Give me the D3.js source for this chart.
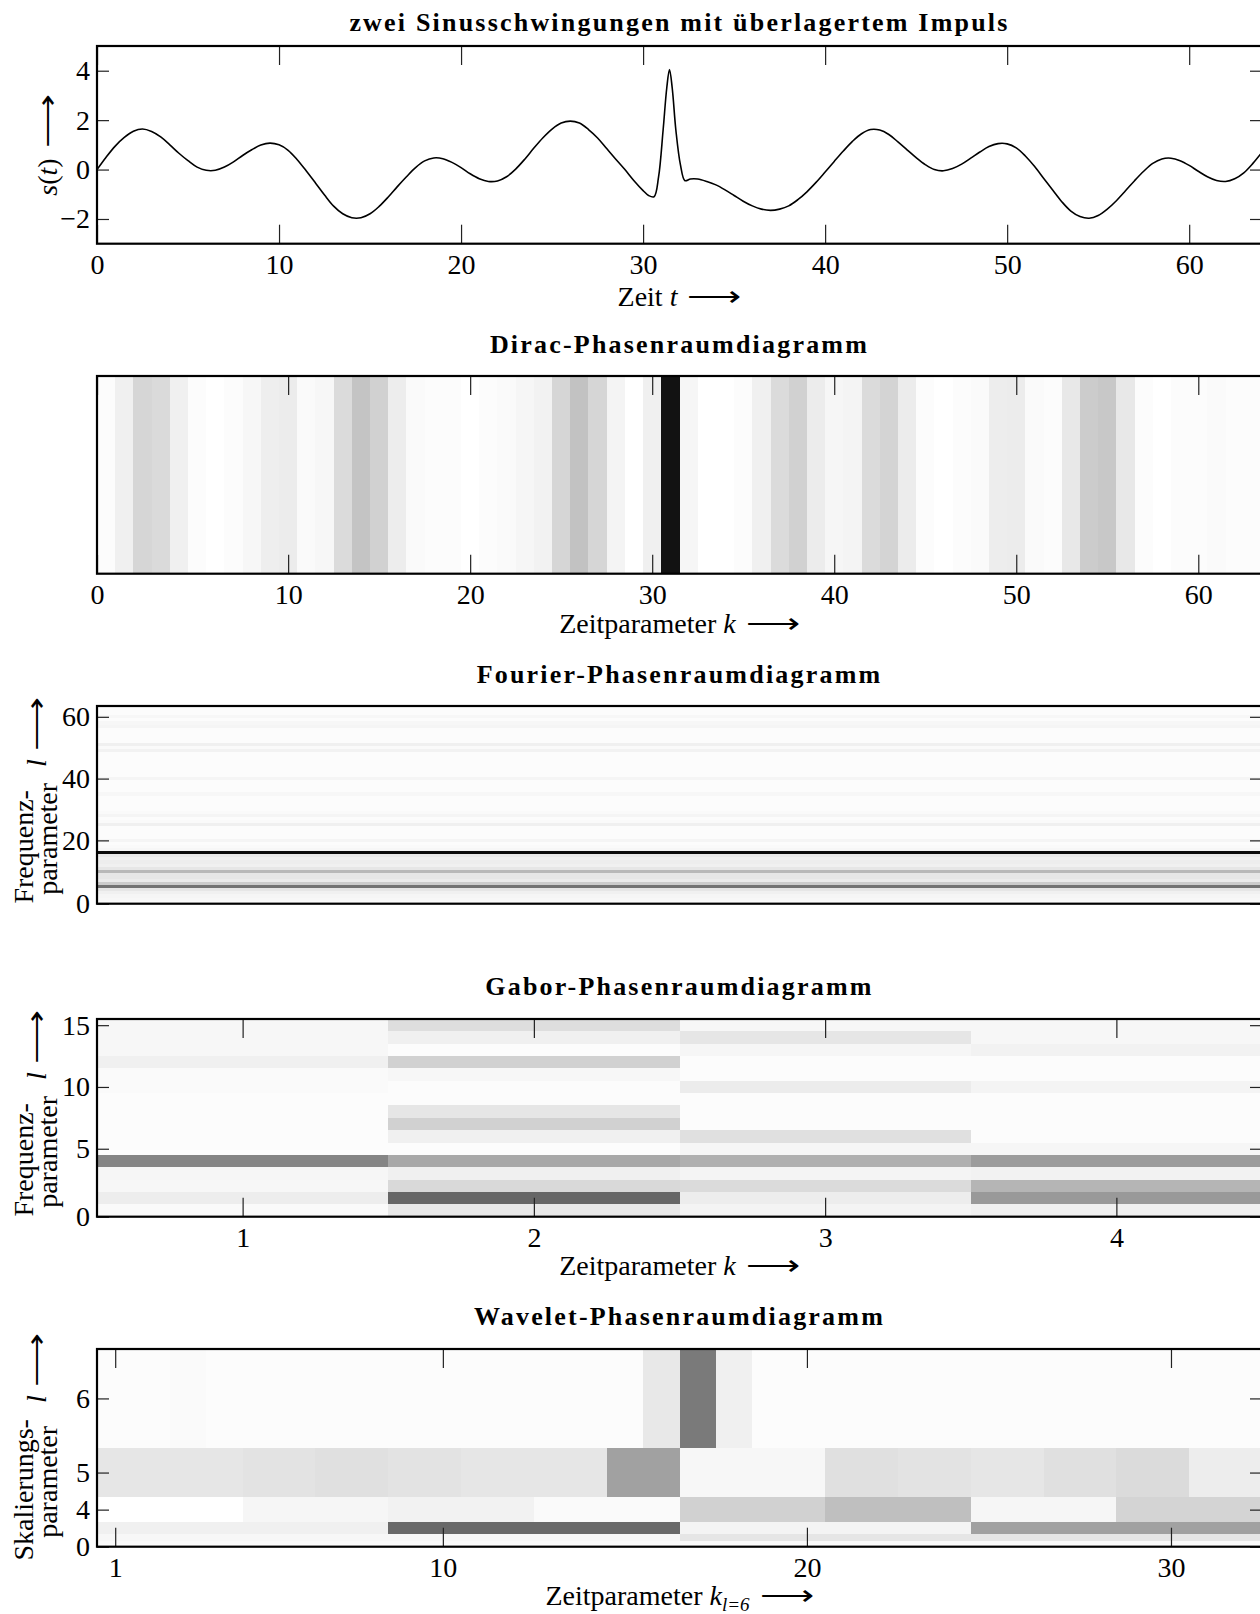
<!DOCTYPE html>
<html>
<head>
<meta charset="utf-8">
<script src="https://cdn.jsdelivr.net/npm/d3@7"></script>
<style>
body { margin: 0; background: #fff; }
svg text { font-family: "Liberation Serif", "Times New Roman", serif; fill: #000; }
.tick text { font-size: 28px; }
.tick line { stroke: #222; stroke-width: 1.2; }
.title { font-weight: bold; font-size: 26px; letter-spacing: 2.2px; }
.lab { font-size: 28px; }
</style>
</head>
<body>
<svg id="fig" width="1260" height="1614"></svg>
<script>
// ---- signal s(t)
const sT = [0,0.5,1,1.5,2,2.5,3,3.5,4,4.5,5,5.5,6,6.5,7,7.5,8,8.5,9,9.5,10,10.5,11,11.5,12,12.5,13,13.5,14,14.5,
  15,15.5,16,16.5,17,17.5,18,18.5,19,19.5,20,20.5,21,21.5,22,22.5,23,23.5,24,24.5,25,25.5,26,26.5,27,27.5,28,28.5,29,29.5,
  30,30.3,30.6,30.85,31.1,31.3,31.45,31.6,31.8,32.05,32.3,32.6,33,33.5,34,34.5,35,35.5,36,36.5,37,37.5,38,38.5,39,39.5,
  40,40.5,41,41.5,42,42.5,43,43.5,44,44.5,45,45.5,46,46.5,47,47.5,48,48.5,49,49.5,50,50.5,51,51.5,52,52.5,53,53.5,54,54.5,
  55,55.5,56,56.5,57,57.5,58,58.5,59,59.5,60,60.5,61,61.5,62,62.5,63,63.5,64];
const sV = [0,0.5,0.95,1.3,1.55,1.64,1.54,1.32,1.0,0.66,0.36,0.1,-0.03,-0.03,0.1,0.31,0.57,0.8,0.99,1.07,1.0,0.78,0.4,-0.06,-0.54,-1.03,-1.48,-1.79,-1.95,-1.95,
  -1.79,-1.49,-1.11,-0.69,-0.29,0.08,0.35,0.47,0.44,0.29,0.08,-0.17,-0.37,-0.48,-0.46,-0.29,0.02,0.42,0.87,1.29,1.64,1.88,1.96,1.88,1.62,1.28,0.85,0.42,0.0,-0.45,
  -0.85,-1.05,-1.1,-0.3,1.6,3.3,4.05,3.3,1.6,0.2,-0.45,-0.38,-0.38,-0.48,-0.62,-0.82,-1.05,-1.28,-1.47,-1.6,-1.65,-1.6,-1.47,-1.22,-0.9,-0.52,
  -0.1,0.33,0.75,1.14,1.45,1.62,1.6,1.42,1.12,0.8,0.48,0.2,0.0,-0.05,0.04,0.22,0.46,0.71,0.93,1.05,1.04,0.88,0.55,0.13,-0.35,-0.83,-1.3,-1.68,-1.9,-1.97,
  -1.86,-1.6,-1.26,-0.86,-0.45,-0.07,0.25,0.43,0.46,0.36,0.17,-0.07,-0.29,-0.44,-0.48,-0.37,-0.13,0.25,0.7];
const sXTicks = [0,10,20,30,40,50,60];
const sYTicks = [-2,0,2,4];

// ---- Dirac: darkness per time index k = 0..63
const diracVals = [0.01,0.06,0.16,0.145,0.06,0.01,0,0.01,0.03,0.065,0.075,0.02,0.03,0.14,0.23,0.18,
  0.07,0.02,0.01,0.01,0,0.01,0.02,0.035,0.05,0.16,0.24,0.16,0.045,0,0.06,0.93,
  0.035,0,0,0.01,0.06,0.14,0.18,0.075,0.035,0.045,0.14,0.17,0.075,0.01,0,0.01,
  0.02,0.07,0.075,0.02,0.01,0.09,0.2,0.215,0.09,0.01,0,0.01,0.01,0.02,0.01,0.01];
const diracTicks = [0,10,20,30,40,50,60];

// ---- Fourier: darkness per frequency index l = 0..63
const fourierVals = [0.02,0.03,0.04,0.06,0.1,0.55,0.2,0.08,0.1,0.1,0.28,0.1,0.06,0.07,0.05,0.08,
  0.95,0.03,0.02,0.01,0.04,0.01,0.01,0.01,0.01,0.06,0.02,0.01,0.04,0.02,0.01,0.01,
  0.01,0.01,0.01,0.03,0.01,0.01,0.01,0.01,0.04,0.01,0.01,0.01,0.01,0.01,0.01,0.01,
  0.01,0.05,0.02,0.06,0.01,0.01,0.01,0.01,0.01,0.04,0.03,0.01,0.03,0.01,0.01,0.01];
const fourierTicks = [0,20,40,60];

// ---- Gabor: darkness, one array per time block k = 1..4, index l = 0..15
const gaborK1 = [0.02,0.07,0.03,0.035,0.48,0.01,0.01,0.01,0.01,0.01,0.02,0.02,0.06,0.03,0.03,0.03];
const gaborK2 = [0.09,0.6,0.15,0.06,0.34,0.01,0.06,0.18,0.1,0.01,0.01,0.03,0.18,0.01,0.06,0.13];
const gaborK3 = [0.045,0.07,0.14,0.045,0.31,0.035,0.12,0.01,0.01,0.01,0.075,0.01,0.01,0.035,0.1,0.03];
const gaborK4 = [0.06,0.4,0.29,0.05,0.39,0.035,0.01,0.01,0.01,0.01,0.045,0.01,0.01,0.05,0.03,0.03];
const gaborXTicks = [1,2,3,4];
const gaborYTicks = [0,5,10,15];

// ---- Wavelet: darkness per scale level (finest level 6 = 32 coefficients)
const wav6 = [0.01,0.01,0.02,0.01,0.01,0.01,0.01,0.01,0.01,0.01,0.01,0.01,0.01,0.01,0.01,0.09,
  0.52,0.06,0.01,0.01,0.01,0.01,0.01,0.01,0.01,0.01,0.01,0.01,0.01,0.01,0.01,0.01];
const wav5 = [0.1,0.1,0.11,0.12,0.11,0.1,0.1,0.37,0.03,0.03,0.12,0.11,0.1,0.12,0.14,0.07];
const wav4 = [0,0.035,0.05,0.02,0.18,0.25,0.035,0.17];
const wav3 = [0.06,0.59,0.045,0.37];
const wav2 = [0.03,0.1];
const wav1 = [0.02];
const wav0 = [0.01];
const wavXTicks = [1,10,20,30];
const wavYLevels = [0,4,5,6];

// ---------------------------------------------------------------
const svg = d3.select("#fig");
const X0 = 97, X1 = 1262, H = 197.7;
const gray = d3.scaleLinear().domain([0, 1]).range(["#ffffff", "#000000"]);
const ARR = 1.35;   // long arrow is stretched sideways

function frame(top, x, y, opt) {
  const g = svg.append("g");
  const bottom = top + H;
  if (opt.xTicks) {
    g.append("g").attr("transform", `translate(0,${bottom})`)
      .call(d3.axisBottom(x).tickValues(opt.xTicks).tickSize(-19).tickPadding(10)
        .tickFormat(opt.xFormat || (d => d)));
    g.append("g").attr("transform", `translate(0,${top})`)
      .call(d3.axisTop(x).tickValues(opt.xTicks).tickSize(-19).tickFormat(""));
  }
  if (opt.yTicks) {
    g.append("g").attr("transform", `translate(${X0},0)`)
      .call(d3.axisLeft(y).tickValues(opt.yTicks).tickSize(-12).tickPadding(7)
        .tickFormat(opt.yFormat || (d => String(d).replace("-", "\u2212"))));
    g.append("g").attr("transform", `translate(${X1},0)`)
      .call(d3.axisRight(y).tickValues(opt.yTicks).tickSize(-12).tickFormat(""));
  }
  g.selectAll(".domain").remove();
  g.selectAll(".tick text").attr("font-family", null).attr("font-size", null);
  svg.append("rect").attr("x", X0).attr("y", top).attr("width", X1 - X0).attr("height", H)
    .attr("fill", "none").attr("stroke", "#000").attr("stroke-width", 2.2);
}

function title(txt, yb) {
  svg.append("text").attr("class", "title").attr("x", (X0 + X1) / 2).attr("y", yb)
    .attr("text-anchor", "middle").text(txt);
}

// text pieces + arrow, laid out from a start position along the baseline
function labelRow(parent, yb, parts) {
  const t = parent.append("text").attr("class", "lab").attr("x", 0).attr("y", yb);
  parts.forEach(p => {
    const s = t.append("tspan").text(p.text);
    if (p.it) s.attr("font-style", "italic");
    if (p.sub) s.attr("font-size", 19).attr("dy", 6);
    if (p.up) s.attr("dy", -6);
  });
  const w = t.node().getComputedTextLength();
  const a = parent.append("text").attr("class", "lab").text("\u27F6");
  const aw = a.node().getComputedTextLength() * ARR;
  return { t, a, w, aw };
}

function placeRow(row, x0, yb, gap) {
  row.t.attr("x", x0);
  row.a.attr("transform", `translate(${x0 + row.w + gap},${yb}) scale(${ARR},1)`);
  return row.w + gap + row.aw;
}

function xLabel(yb, parts) {
  const g = svg.append("g");
  const row = labelRow(g, yb, parts);
  const total = row.w + 10 + row.aw;
  placeRow(row, (X0 + X1) / 2 - total / 2, yb, 10);
}

// rotated two-line y label: centred lines, then "l ⟶"
function yLabel2(yc, line1, line2) {
  const g = svg.append("g").attr("transform", `translate(0,${yc}) rotate(-90)`);
  const a = g.append("text").attr("class", "lab").attr("text-anchor", "middle")
    .attr("x", -42).attr("y", 33).text(line1);
  const b = g.append("text").attr("class", "lab").attr("text-anchor", "middle")
    .attr("x", -34).attr("y", 57).text(line2);
  const end = Math.max(-42 + a.node().getComputedTextLength() / 2,
                       -34 + b.node().getComputedTextLength() / 2);
  const row = labelRow(g, 46, [{ text: "l", it: true }]);
  placeRow(row, end + 16, 46, 8);
}

// ---- panel 1: signal
{
  const top = 46;
  const x = d3.scaleLinear().domain([0, 64]).range([X0, X1]);
  const y = d3.scaleLinear().domain([-3, 5]).range([top + H, top]);
  const pts = sT.map((t, i) => [t, sV[i]]);
  svg.append("clipPath").attr("id", "c1").append("rect")
    .attr("x", X0).attr("y", top).attr("width", X1 - X0).attr("height", H);
  svg.append("path").datum(pts).attr("clip-path", "url(#c1)")
    .attr("fill", "none").attr("stroke", "#000").attr("stroke-width", 1.6)
    .attr("d", d3.line().x(d => x(d[0])).y(d => y(d[1])).curve(d3.curveCatmullRom.alpha(0.5)));
  frame(top, x, y, { xTicks: sXTicks, yTicks: sYTicks });
  title("zwei Sinusschwingungen mit \u00FCberlagertem Impuls", 31);
  xLabel(306, [{ text: "Zeit " }, { text: "t", it: true }]);
  const g = svg.append("g").attr("transform", `translate(0,145) rotate(-90)`);
  const row = labelRow(g, 57, [{ text: "s", it: true }, { text: "(" }, { text: "t", it: true }, { text: ")" }]);
  const total = row.w + 10 + row.aw;
  placeRow(row, -total / 2, 57, 10);
}

// ---- panel 2: Dirac
{
  const top = 376;
  const x = d3.scaleLinear().domain([-0.5, 63.5]).range([X0, X1]);
  svg.append("g").selectAll("rect").data(diracVals).join("rect")
    .attr("x", (d, k) => x(k - 0.5)).attr("width", (d, k) => x(k + 0.5) - x(k - 0.5))
    .attr("y", top).attr("height", H).attr("fill", d => gray(d))
    .attr("shape-rendering", "crispEdges");
  const ticks = diracTicks.map(d => d === 0 ? -0.5 : d);
  frame(top, x, null, { xTicks: ticks, xFormat: d => d < 0 ? "0" : d });
  title("Dirac-Phasenraumdiagramm", 353);
  xLabel(633, [{ text: "Zeitparameter " }, { text: "k", it: true }]);
}

// ---- panel 3: Fourier
{
  const top = 706;
  const x = d3.scaleLinear().domain([0, 1]).range([X0, X1]);
  const y = d3.scaleLinear().domain([-0.5, 63.5]).range([top + H, top]);
  svg.append("g").selectAll("rect").data(fourierVals).join("rect")
    .attr("x", x(0)).attr("width", x(1) - x(0))
    .attr("y", (d, l) => y(l + 0.5)).attr("height", (d, l) => y(l - 0.5) - y(l + 0.5))
    .attr("fill", d => gray(d)).attr("shape-rendering", "crispEdges");
  const ticks = fourierTicks.map(d => d === 0 ? -0.5 : d);
  frame(top, x, y, { yTicks: ticks, yFormat: d => d < 0 ? "0" : d });
  title("Fourier-Phasenraumdiagramm", 683);
  yLabel2(top + H / 2, "Frequenz-", "parameter");
}

// ---- panel 4: Gabor
{
  const top = 1019;
  const x = d3.scaleLinear().domain([0.5, 4.5]).range([X0, X1]);
  const y = d3.scaleLinear().domain([-0.5, 15.5]).range([top + H, top]);
  const cols = [gaborK1, gaborK2, gaborK3, gaborK4];
  const cells = cols.flatMap((col, i) => col.map((v, l) => ({ k: i + 1, l, v })));
  svg.append("g").selectAll("rect").data(cells).join("rect")
    .attr("x", d => x(d.k - 0.5)).attr("width", d => x(d.k + 0.5) - x(d.k - 0.5))
    .attr("y", d => y(d.l + 0.5)).attr("height", d => y(d.l - 0.5) - y(d.l + 0.5))
    .attr("fill", d => gray(d.v)).attr("shape-rendering", "crispEdges");
  const yt = gaborYTicks.map(d => d === 0 ? -0.5 : d);
  frame(top, x, y, { xTicks: gaborXTicks, yTicks: yt, yFormat: d => d < 0 ? "0" : d });
  title("Gabor-Phasenraumdiagramm", 995);
  xLabel(1275, [{ text: "Zeitparameter " }, { text: "k", it: true }]);
  yLabel2(top + H / 2, "Frequenz-", "parameter");
}

// ---- panel 5: Wavelet
{
  const top = 1349;
  const x = d3.scaleLinear().domain([0.5, 32.5]).range([X0, X1]);
  const y = d3.scaleLinear().domain([0, 128]).range([top + H, top]);
  const levels = [wav0, wav1, wav2, wav3, wav4, wav5, wav6];
  const cells = levels.flatMap((arr, lev) => arr.map((v, j) => {
    const w = 32 / arr.length;
    const lo = lev === 0 ? 0 : Math.pow(2, lev), hi = lev === 0 ? 2 : Math.pow(2, lev + 1);
    return { x0: 0.5 + j * w, x1: 0.5 + (j + 1) * w, lo, hi, v };
  }));
  svg.append("g").selectAll("rect").data(cells).join("rect")
    .attr("x", d => x(d.x0)).attr("width", d => x(d.x1) - x(d.x0))
    .attr("y", d => y(d.hi)).attr("height", d => y(d.lo) - y(d.hi))
    .attr("fill", d => gray(d.v)).attr("shape-rendering", "crispEdges");
  // level label sits at the middle of its band
  const ypos = wavYLevels.map(l => l === 0 ? 0 : 1.5 * Math.pow(2, l));
  frame(top, x, y, { xTicks: wavXTicks, yTicks: ypos,
    yFormat: d => d === 0 ? "0" : String(Math.round(Math.log2(d / 1.5))) });
  title("Wavelet-Phasenraumdiagramm", 1325);
  xLabel(1605, [{ text: "Zeitparameter " }, { text: "k", it: true }, { text: "l=6", it: true, sub: true }, { text: "", up: true }]);
  yLabel2(top + H / 2, "Skalierungs-", "parameter");
}
</script>
</body>
</html>
